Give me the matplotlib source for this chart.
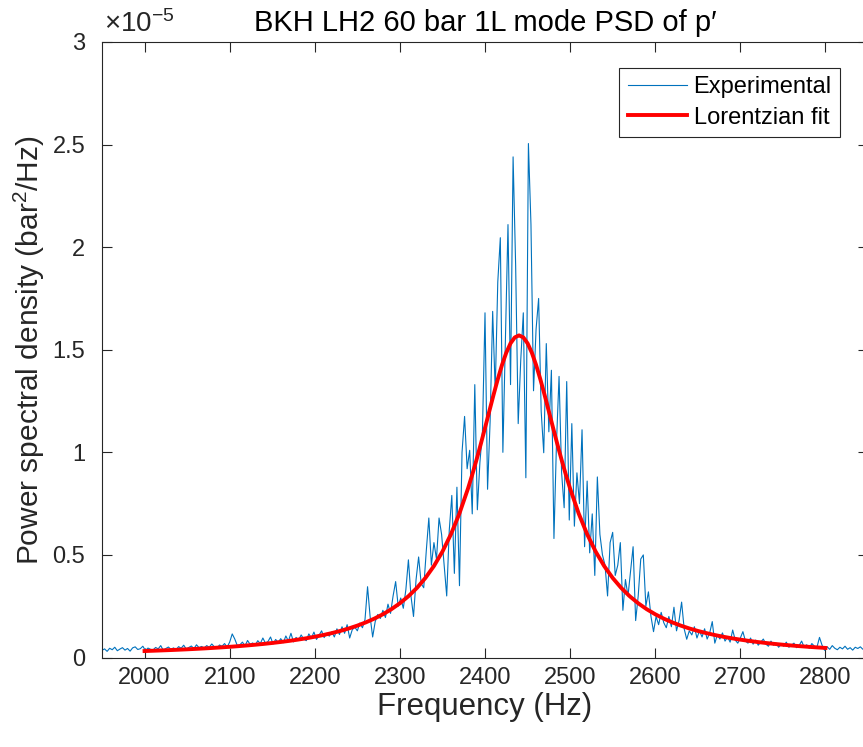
import numpy as np
import matplotlib
matplotlib.use("Agg")
import matplotlib.pyplot as plt

plt.rcParams['font.family'] = ['Liberation Sans', 'DejaVu Sans']
plt.rcParams['mathtext.fontset'] = 'custom'
plt.rcParams['mathtext.rm'] = 'Liberation Sans'
plt.rcParams['mathtext.it'] = 'Liberation Sans:italic'

#----------------- DATA (PSD in units of 1e-5 bar^2/Hz) -----------------#

freq_exp = np.arange(1950, 2851, 3)
psd_exp = [
    0.035, 0.042, 0.030, 0.045, 0.038, 0.050, 0.033, 0.041, 0.048, 0.036,   # 1950
    0.044, 0.031, 0.047, 0.052, 0.039, 0.043, 0.055, 0.034, 0.046, 0.040,   # 1980
    0.037, 0.049, 0.042, 0.058, 0.035, 0.044, 0.051, 0.040, 0.047, 0.038,   # 2010
    0.053, 0.045, 0.060, 0.041, 0.049, 0.056, 0.043, 0.062, 0.048, 0.054,   # 2040
    0.046, 0.058, 0.050, 0.066, 0.052, 0.044, 0.061, 0.055, 0.068, 0.051,   # 2070
    0.075, 0.115, 0.090, 0.058, 0.062, 0.075, 0.056, 0.083, 0.064, 0.071,   # 2100
    0.060, 0.082, 0.068, 0.095, 0.070, 0.078, 0.100, 0.066, 0.088, 0.074,   # 2130
    0.092, 0.072, 0.105, 0.080, 0.118, 0.076, 0.098, 0.085, 0.110, 0.090,   # 2160
    0.082, 0.115, 0.095, 0.124, 0.088, 0.108, 0.130, 0.097, 0.118, 0.104,   # 2190
    0.125, 0.100, 0.140, 0.112, 0.150, 0.118, 0.160, 0.095, 0.135, 0.148,   # 2220
    0.130, 0.168, 0.145, 0.185, 0.345, 0.200, 0.100, 0.175, 0.210, 0.190,   # 2250
    0.230, 0.195, 0.260, 0.215, 0.300, 0.370, 0.250, 0.290, 0.240, 0.330,   # 2280
    0.476, 0.300, 0.200, 0.380, 0.490, 0.360, 0.340, 0.520, 0.680, 0.450,   # 2310
    0.560, 0.480, 0.680, 0.600, 0.450, 0.300, 0.620, 0.790, 0.410, 0.830,   # 2340
    0.350, 1.000, 1.175, 0.920, 1.010, 0.700, 1.330, 0.720, 0.950, 1.100,   # 2370
    1.680, 0.820, 1.150, 1.687, 1.300, 1.830, 2.046, 1.000, 1.550, 2.110,   # 2400
    1.330, 2.440, 1.910, 1.140, 1.450, 1.680, 0.876, 2.505, 2.110, 1.300,   # 2430
    1.600, 1.750, 1.200, 0.998, 1.530, 1.100, 1.400, 0.580, 1.050, 1.370,   # 2460
    0.900, 0.730, 1.345, 0.670, 1.140, 0.640, 0.900, 0.750, 1.110, 0.540,   # 2490
    0.860, 0.510, 0.700, 0.400, 0.880, 0.600, 0.500, 0.450, 0.300, 0.560,   # 2520
    0.610, 0.400, 0.450, 0.560, 0.230, 0.380, 0.300, 0.420, 0.540, 0.180,   # 2550
    0.300, 0.480, 0.500, 0.250, 0.320, 0.200, 0.126, 0.200, 0.160, 0.220,   # 2580
    0.170, 0.145, 0.200, 0.150, 0.245, 0.130, 0.180, 0.270, 0.140, 0.089,   # 2610
    0.130, 0.110, 0.150, 0.095, 0.130, 0.100, 0.140, 0.090, 0.120, 0.175,   # 2640
    0.070, 0.110, 0.090, 0.120, 0.080, 0.100, 0.075, 0.134, 0.085, 0.070,   # 2670
    0.095, 0.126, 0.080, 0.070, 0.095, 0.065, 0.085, 0.060, 0.075, 0.090,   # 2700
    0.065, 0.055, 0.080, 0.060, 0.070, 0.050, 0.065, 0.055, 0.075, 0.050,   # 2730
    0.060, 0.070, 0.048, 0.058, 0.080, 0.050, 0.062, 0.045, 0.068, 0.055,   # 2760
    0.050, 0.098, 0.060, 0.035, 0.052, 0.040, 0.058, 0.045, 0.038, 0.050,   # 2790
    0.042, 0.055, 0.040, 0.048, 0.036, 0.050, 0.044, 0.052, 0.040, 0.046,   # 2820
    0.045,                                                                  # 2850
]

# fit sampled every 10 Hz in the tails, every 5 Hz around the peak
freq_fit = np.concatenate([np.arange(2000, 2380, 10),
                           np.arange(2380, 2501, 5),
                           np.arange(2510, 2801, 10)])
psd_fit = [
    0.0315, 0.0330, 0.0346, 0.0362, 0.0380, 0.0399, 0.0420, 0.0442, 0.0467, 0.0493,
    0.0521, 0.0552, 0.0586, 0.0623, 0.0663, 0.0708, 0.0757, 0.0811, 0.0871, 0.0937,
    0.1012, 0.1096, 0.1190, 0.1296, 0.1417, 0.1555, 0.1713, 0.1896, 0.2107, 0.2354,
    0.2644, 0.2986, 0.3392, 0.3878, 0.4460, 0.5163, 0.6010, 0.7026,
    0.8233, 0.8909, 0.9633, 1.0396, 1.1190, 1.1997, 1.2798, 1.3564, 1.4262, 1.4858,
    1.5314, 1.5602, 1.5700, 1.5602, 1.5314, 1.4858, 1.4262, 1.3564, 1.2798, 1.1997,
    1.1190, 1.0396, 0.9633, 0.8909, 0.8233,
    0.7026, 0.6010, 0.5163, 0.4460, 0.3878, 0.3392, 0.2986, 0.2644, 0.2354, 0.2107,
    0.1896, 0.1713, 0.1555, 0.1417, 0.1296, 0.1190, 0.1096, 0.1012, 0.0937, 0.0871,
    0.0811, 0.0757, 0.0708, 0.0663, 0.0623, 0.0586, 0.0552, 0.0521, 0.0493, 0.0467,
]

x_ticks = [2000, 2100, 2200, 2300, 2400, 2500, 2600, 2700, 2800]
y_ticks = [0, 0.5, 1, 1.5, 2, 2.5, 3]
y_tick_labels = ['0', '0.5', '1', '1.5', '2', '2.5', '3']

#----------------- PLOT -----------------#

dark = '#262626'
fig = plt.figure(figsize=(8.63, 7.47), dpi=100)
ax = fig.add_axes([0.1182, 0.1198, 0.8876, 0.824])

ax.plot(freq_exp, psd_exp, color='#0072BD', lw=0.8, label='Experimental')
ax.plot(freq_fit, psd_fit, color='red', lw=2.8, label='Lorentzian fit')

ax.set_xlim(1950, 2850)
ax.set_ylim(0, 3)
ax.set_xticks(x_ticks)
ax.set_yticks(y_ticks)
ax.set_yticklabels(y_tick_labels)
ax.tick_params(direction='in', length=7, width=0.8, colors=dark, labelsize=17,
               top=True, right=True, labelcolor=dark)
ax.tick_params(axis='x', pad=7)
ax.tick_params(axis='y', pad=12)
for s in ax.spines.values():
    s.set_color(dark)
    s.set_linewidth(0.8)

ax.set_xlabel('Frequency (Hz)', fontsize=22.5, color=dark, labelpad=2)
ax.set_ylabel(r'Power spectral density (bar$^{\mathrm{2}}$/Hz)', fontsize=21.5, color=dark)
ax.set_title('BKH LH2 60 bar 1L mode PSD of p\u2032', fontsize=21, color='black', pad=8)
ax.text(0.003, 1.006, r'$\times10^{-5}$', transform=ax.transAxes, fontsize=20,
        color=dark, ha='left', va='bottom')

leg = ax.legend(loc='upper right', bbox_to_anchor=(840 / 863, 1 - 68 / 747),
                bbox_transform=fig.transFigure, borderaxespad=0, fontsize=17,
                fancybox=False, framealpha=1, edgecolor=dark, handlelength=2.5,
                handletextpad=0.3, labelspacing=0.35, borderpad=0.35)
leg.get_frame().set_linewidth(0.8)

fig.savefig('out.png', dpi=100)
